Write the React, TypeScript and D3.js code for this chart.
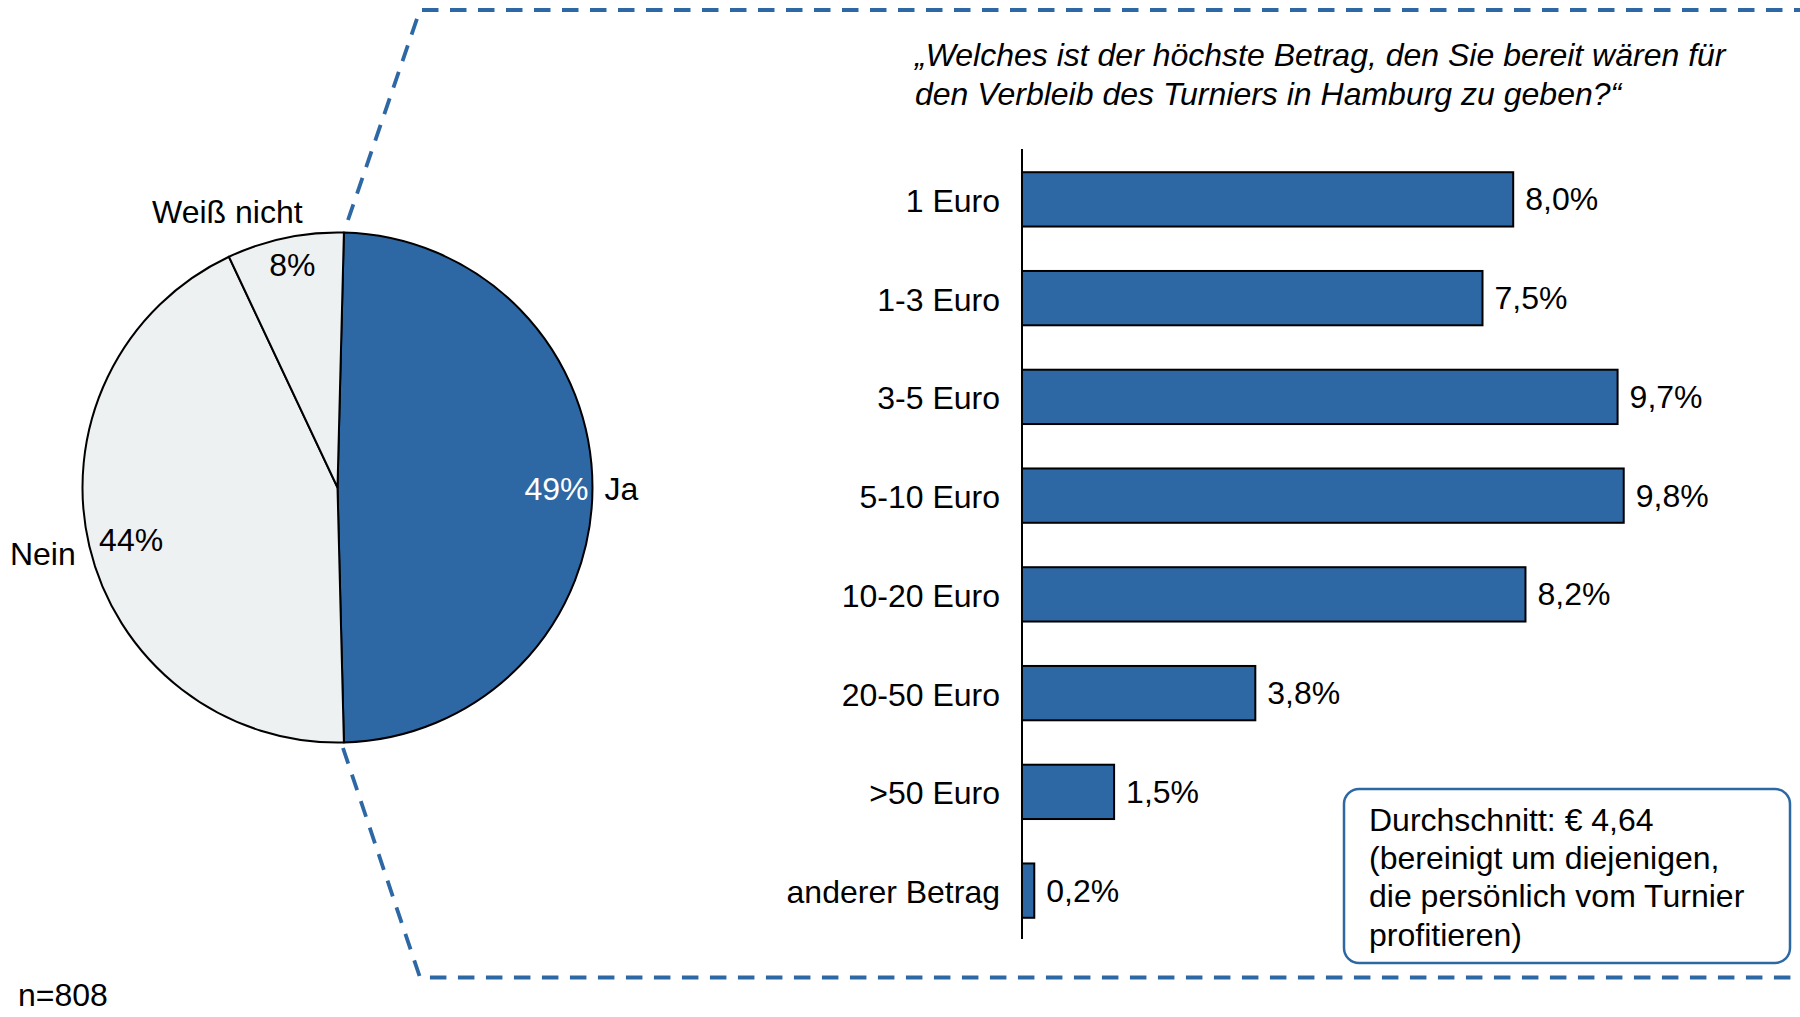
import React from 'react';
import * as d3 from 'd3';

// ---------- data ----------
const pieCategories = ['Ja', 'Nein', 'Weiß nicht'];
const pieValues = [49.2, 43.4, 7.4];
const pieValueLabels = ['49%', '44%', '8%'];

const barCategories = ['1 Euro', '1-3 Euro', '3-5 Euro', '5-10 Euro', '10-20 Euro', '20-50 Euro', '>50 Euro', 'anderer Betrag'];
const barValues = [8.0, 7.5, 9.7, 9.8, 8.2, 3.8, 1.5, 0.2];
const barValueLabels = ['8,0%', '7,5%', '9,7%', '9,8%', '8,2%', '3,8%', '1,5%', '0,2%'];

const titleLines = ['„Welches ist der höchste Betrag, den Sie bereit wären für', 'den Verbleib des Turniers in Hamburg zu geben?“'];
const noteLines = ['Durchschnitt: € 4,64', '(bereinigt um diejenigen,', 'die persönlich vom Turnier', 'profitieren)'];
const sampleText = 'n=808';

// ---------- style ----------
const W = 1800;
const H = 1017;
const BLUE = '#2D68A5';
const GREY = '#EEF1F2';
const FONT = '"Liberation Sans", Arial, Helvetica, sans-serif';
const FS = 32;

// label layout per slice (style only)
const pieLabelLayout = [
  { inR: 251, inAnchor: 'end', inDx: 0, inDy: 12, inFill: '#fff', outR: 267, outAnchor: 'start', outDx: 0, outDy: 12 },
  { inR: 245, inAnchor: 'start', inDx: 0, inDy: 7, inFill: '#000', outR: 269, outAnchor: 'end', outDx: 0, outDy: 16 },
  { inR: 219, inAnchor: 'middle', inDx: 0, inDy: 3, inFill: '#000', outR: 278, outAnchor: 'middle', outDx: -53, outDy: 8 },
];

export default function App() {
  // pie
  const cx = 337.5;
  const cy = 487.5;
  const R = 255;
  const start = (1.44 * Math.PI) / 180;
  const pie = d3.pie<number>().sort(null).startAngle(start).endAngle(start + 2 * Math.PI);
  const arcs = pie(pieValues);
  const arcGen = d3.arc<d3.PieArcDatum<number>>().innerRadius(0).outerRadius(R);
  const pointAt = (a: d3.PieArcDatum<number>, r: number) => {
    const m = (a.startAngle + a.endAngle) / 2;
    return [Math.sin(m) * r, -Math.cos(m) * r];
  };

  // bars
  const x0 = 1022;
  const x = d3.scaleLinear().domain([0, 10]).range([x0, x0 + 614]);
  const y = d3.scaleBand<string>().domain(barCategories).range([150, 940]).paddingInner(0.45).paddingOuter(0.225);

  // dashed connector
  const topPath = d3.line()([[348, 220], [420, 10], [W, 10]]);
  const botPath = d3.line()([[343, 748], [420, 977.5], [W, 977.5]]);

  return (
    <svg width={W} height={H} viewBox={`0 0 ${W} ${H}`} style={{ position: 'absolute', left: 0, top: 0, background: '#fff' }} fontFamily={FONT}>
      <rect x={0} y={0} width={W} height={H} fill="#fff" />
      {/* connectors */}
      <path d={topPath!} fill="none" stroke={BLUE} strokeWidth={3.8} strokeDasharray="16.5 11.5" />
      <path d={botPath!} fill="none" stroke={BLUE} strokeWidth={3.8} strokeDasharray="16.5 11.5" />

      {/* pie */}
      <g transform={`translate(${cx},${cy})`}>
        {arcs.map((a, i) => (
          <path key={i} d={arcGen(a)!} fill={i === 0 ? BLUE : GREY} stroke="#000" strokeWidth={2} strokeLinejoin="round" />
        ))}
        {arcs.map((a, i) => {
          const L = pieLabelLayout[i];
          const [ix, iy] = pointAt(a, L.inR);
          const [ox, oy] = pointAt(a, L.outR);
          return (
            <g key={'l' + i} fontSize={FS}>
              <text x={ix + L.inDx} y={iy + L.inDy} textAnchor={L.inAnchor as any} fill={L.inFill}>{pieValueLabels[i]}</text>
              <text x={ox + L.outDx} y={oy + L.outDy} textAnchor={L.outAnchor as any} fill="#000">{pieCategories[i]}</text>
            </g>
          );
        })}
      </g>

      {/* title */}
      <g fontSize={FS} fontStyle="italic" fill="#000">
        {titleLines.map((t, i) => (
          <text key={i} x={915} y={66 + i * 38.5}>{t}</text>
        ))}
      </g>

      {/* bars */}
      <g>
        {barCategories.map((c, i) => (
          <rect key={c} x={x(0)} y={y(c)!} width={x(barValues[i]) - x(0)} height={y.bandwidth()} fill={BLUE} stroke="#000" strokeWidth={2} />
        ))}
        <line x1={x0} x2={x0} y1={149} y2={939} stroke="#000" strokeWidth={2} />
        {barCategories.map((c, i) => (
          <text key={'c' + c} x={1000} y={y(c)! + y.bandwidth() / 2 + 12.5} textAnchor="end" fontSize={FS} fill="#000">{c}</text>
        ))}
        {barCategories.map((c, i) => (
          <text key={'v' + c} x={x(barValues[i]) + 12} y={y(c)! + y.bandwidth() / 2 + 11} fontSize={FS} fill="#000">{barValueLabels[i]}</text>
        ))}
      </g>

      {/* note box */}
      <rect x={1344} y={789} width={446} height={174} rx={15} ry={15} fill="#fff" stroke={BLUE} strokeWidth={2.5} />
      <g fontSize={FS} fill="#000">
        {noteLines.map((t, i) => (
          <text key={i} x={1369} y={831 + i * 38.2}>{t}</text>
        ))}
      </g>

      <text x={18} y={1006} fontSize={FS} fill="#000">{sampleText}</text>
    </svg>
  );
}
